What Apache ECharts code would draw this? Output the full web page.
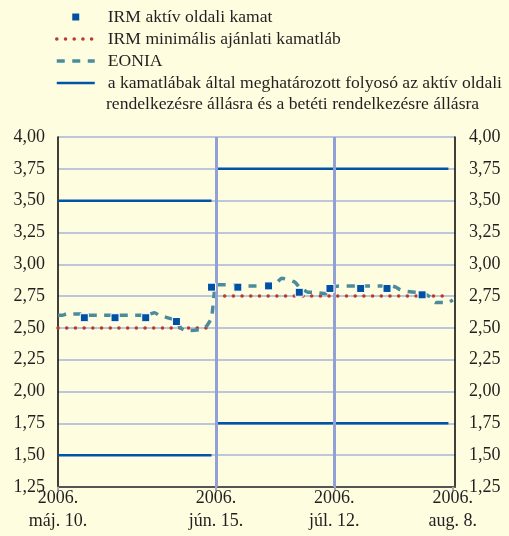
<!DOCTYPE html>
<html>
<head>
<meta charset="utf-8">
<script src="https://cdn.jsdelivr.net/npm/echarts@6/dist/echarts.min.js"></script>
<style>
html,body{margin:0;padding:0;background:#FEFDE0;}
#chart{width:509px;height:536px;}
</style>
</head>
<body>
<div id="chart"></div>
<script>
// ---- data ----
const baseDate = '2006-05-10';
const axisEndDate = '2006-08-08';
const tickDates = ['2006-05-10', '2006-06-15', '2006-07-12', '2006-08-08'];
const tickLabels = ['2006.\nmáj. 10.', '2006.\njún. 15.', '2006.\njúl. 12.', '2006.\naug. 8.'];

const seriesNames = [
  'IRM aktív oldali kamat',
  'IRM minimális ajánlati kamatláb',
  'EONIA',
  'a kamatlábak által meghatározott folyosó az aktív oldali'
];
const legendSecondLine = 'rendelkezésre állásra és a betéti rendelkezésre állásra';

// IRM marginal (aktív oldali) rate – weekly tenders
const irmDates = ['2006-05-16', '2006-05-23', '2006-05-30', '2006-06-06', '2006-06-14', '2006-06-20',
  '2006-06-27', '2006-07-04', '2006-07-11', '2006-07-18', '2006-07-24', '2006-08-01'];
const irmValues = [2.58, 2.58, 2.58, 2.55, 2.82, 2.82, 2.83, 2.78, 2.81, 2.81, 2.81, 2.76];

// minimum bid rate segments
const minBidStart = ['2006-05-10', '2006-06-15'];
const minBidEnd = ['2006-06-14', '2006-08-07'];
const minBidRate = [2.50, 2.75];

// corridor segments
const corridorStart = ['2006-05-10', '2006-06-15'];
const corridorEnd = ['2006-06-14', '2006-08-07'];
const corridorUpper = [3.50, 3.75];
const corridorLower = [1.50, 1.75];

// EONIA daily
const eoniaDates = ['2006-05-10', '2006-05-11', '2006-05-12', '2006-05-15', '2006-05-16', '2006-05-17', '2006-05-18', '2006-05-19',
  '2006-05-22', '2006-05-23', '2006-05-24', '2006-05-25', '2006-05-26', '2006-05-29', '2006-05-30', '2006-05-31',
  '2006-06-01', '2006-06-02', '2006-06-05', '2006-06-06', '2006-06-07', '2006-06-08', '2006-06-09', '2006-06-12',
  '2006-06-13', '2006-06-14', '2006-06-15', '2006-06-16', '2006-06-19', '2006-06-20', '2006-06-21', '2006-06-22',
  '2006-06-23', '2006-06-26', '2006-06-27', '2006-06-28', '2006-06-29', '2006-06-30', '2006-07-03', '2006-07-04',
  '2006-07-05', '2006-07-06', '2006-07-07', '2006-07-10', '2006-07-11', '2006-07-12', '2006-07-13', '2006-07-14',
  '2006-07-17', '2006-07-18', '2006-07-19', '2006-07-20', '2006-07-21', '2006-07-24', '2006-07-25', '2006-07-26',
  '2006-07-27', '2006-07-28', '2006-07-31', '2006-08-01', '2006-08-02', '2006-08-03', '2006-08-04', '2006-08-07',
  '2006-08-08'];
const eoniaValues = [2.60, 2.60, 2.61, 2.61, 2.60, 2.60, 2.60, 2.60,
  2.60, 2.60, 2.60, 2.60, 2.60, 2.60, 2.60, 2.61,
  2.62, 2.60, 2.57, 2.55, 2.50, 2.48, 2.48, 2.49,
  2.52, 2.58, 2.84, 2.84, 2.84, 2.84, 2.83, 2.83,
  2.83, 2.83, 2.83, 2.84, 2.86, 2.89, 2.86, 2.82,
  2.80, 2.78, 2.78, 2.77, 2.77, 2.82, 2.83, 2.83,
  2.83, 2.83, 2.83, 2.83, 2.83, 2.83, 2.83, 2.82,
  2.80, 2.79, 2.78, 2.78, 2.76, 2.74, 2.70, 2.70,
  2.72];

// ---- helpers ----
function dayOf(s) {
  const p = s.split('-').map(Number), b = baseDate.split('-').map(Number);
  return (Date.UTC(p[0], p[1] - 1, p[2]) - Date.UTC(b[0], b[1] - 1, b[2])) / 86400000;
}
function segData(starts, ends, vals) {
  const out = [];
  starts.forEach((s, i) => {
    if (i > 0) out.push([dayOf(s) - 0.5, '-']);
    out.push([dayOf(s), vals[i]]);
    out.push([dayOf(ends[i]), vals[i]]);
  });
  return out;
}
const tickDays = tickDates.map(dayOf);
const corridorData = segData(corridorStart, corridorEnd, corridorUpper)
  .concat([[0, '-']])
  .concat(segData(corridorStart, corridorEnd, corridorLower));

const FONT = "'Liberation Serif', 'Times New Roman', serif";
const TXT = '#231F20';
const FS = 18;
const LFS = 17.6;
const fmtY = v => v.toFixed(2).replace('.', ',');
const noSymbol = { color: 'rgba(0,0,0,0)', borderColor: 'rgba(0,0,0,0)', borderWidth: 0 };

const chart = echarts.init(document.getElementById('chart'));
chart.setOption({
  backgroundColor: '#FEFDE0',
  animation: false,
  textStyle: { fontFamily: FONT, color: TXT },
  legend: {
    orient: 'vertical',
    left: 50,
    top: 3,
    itemWidth: 38,
    itemHeight: 14,
    itemGap: 4,
    selectedMode: false,
    textStyle: { fontFamily: FONT, fontSize: LFS, lineHeight: 18, color: TXT, padding: [0, 0, 0, 8] },
    data: [
      { name: seriesNames[0], icon: 'path://M0,0M38,0M38,14M0,14M15.5,3.5h7v7h-7z', itemStyle: { borderWidth: 0 } },
      { name: seriesNames[1], itemStyle: noSymbol, lineStyle: { width: 3.5, type: [0.1, 8.6], cap: 'round' } },
      { name: seriesNames[2], itemStyle: noSymbol, lineStyle: { width: 3.5, type: [8, 7.5], cap: 'butt' } },
      { name: seriesNames[3], itemStyle: noSymbol, lineStyle: { width: 2.5, type: 'solid' } }
    ]
  },
  graphic: [{
    type: 'text', left: 106, top: 95,
    style: { text: legendSecondLine, font: LFS + 'px ' + FONT, fill: TXT }
  }],
  grid: { left: 58, right: 54, top: 137, bottom: 49 },
  xAxis: {
    type: 'value',
    min: 0,
    max: dayOf(axisEndDate) + 0.5,
    axisLine: { show: true, lineStyle: { color: '#555', width: 2 } },
    axisTick: { show: true, customValues: tickDays, length: 4, lineStyle: { color: '#aaa', width: 2 } },
    splitLine: { show: false },
    axisLabel: {
      customValues: tickDays,
      fontFamily: FONT, fontSize: FS, color: TXT, lineHeight: 23, margin: 0,
      formatter: v => { const i = tickDays.indexOf(v); return i >= 0 ? tickLabels[i] : ''; }
    }
  },
  yAxis: [{
    type: 'value', min: 1.25, max: 4, interval: 0.25, position: 'left',
    axisLine: { show: true, lineStyle: { color: '#000', width: 1.5 } },
    axisTick: { show: false },
    splitLine: { show: true, lineStyle: { color: '#A6B3DD', width: 1.5 } },
    axisLabel: { fontFamily: FONT, fontSize: FS, color: TXT, margin: 13, formatter: fmtY }
  }, {
    type: 'value', min: 1.25, max: 4, interval: 0.25, position: 'right',
    axisLine: { show: true, lineStyle: { color: '#000', width: 1.5 } },
    axisTick: { show: false },
    splitLine: { show: false },
    axisLabel: { fontFamily: FONT, fontSize: FS, color: TXT, margin: 14, formatter: fmtY }
  }],
  series: [
    {
      name: seriesNames[3], type: 'line', symbol: 'none', z: 2,
      data: corridorData,
      lineStyle: { color: '#0055A6', width: 2.5 },
      itemStyle: { color: '#0055A6' },
      markLine: {
        silent: true, symbol: 'none', label: { show: false },
        lineStyle: { color: '#91A1D5', width: 3, type: 'solid' },
        data: [{ xAxis: tickDays[1] }, { xAxis: tickDays[2] }]
      }
    },
    {
      name: seriesNames[1], type: 'line', symbol: 'none', z: 3,
      data: segData(minBidStart, minBidEnd, minBidRate),
      lineStyle: { color: '#B73A33', width: 3.5, type: [0.1, 8.6], cap: 'round' },
      itemStyle: { color: '#B73A33' }
    },
    {
      name: seriesNames[2], type: 'line', symbol: 'none', z: 4, smooth: 0.2,
      data: eoniaDates.map((d, i) => [dayOf(d), eoniaValues[i]]),
      lineStyle: { color: '#4B8C9C', width: 3.5, type: [8, 7.5], cap: 'butt' },
      itemStyle: { color: '#4B8C9C' }
    },
    {
      name: seriesNames[0], type: 'scatter', symbol: 'rect', symbolSize: 8, z: 5,
      data: irmDates.map((d, i) => [dayOf(d), irmValues[i]]),
      itemStyle: { color: '#0052A0', borderColor: '#ffffff', borderWidth: 1, opacity: 1 }
    }
  ]
});
</script>
</body>
</html>
